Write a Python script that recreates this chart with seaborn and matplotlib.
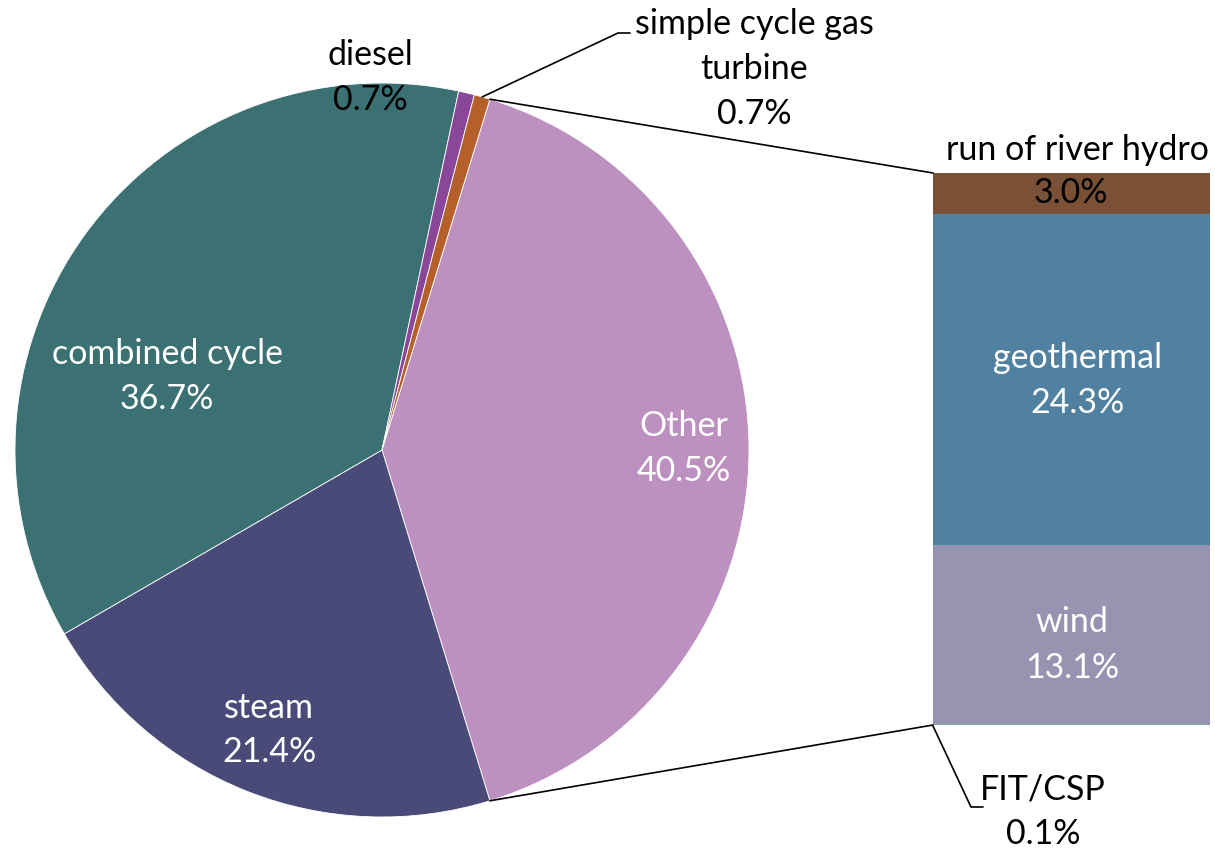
import numpy as np
import matplotlib.pyplot as plt
import seaborn as sns

# Pie data (clockwise from the right-hand "Other" slice)
pie_labels = ["Other", "steam", "combined cycle", "diesel", "simple cycle gas\nturbine"]
pie_values = [40.5, 21.4, 36.7, 0.7, 0.7]
pie_colors = ["#BC91BF", "#4A4A78", "#3B7173", "#8A479A", "#B55F2A"]

# Breakdown of "Other" (bottom to top)
bar_labels = ["FIT/CSP", "wind", "geothermal", "run of river hydro"]
bar_values = [0.1, 13.1, 24.3, 3.0]
bar_colors = ["#7FA3A3", "#9694B0", "#5181A1", "#7A5037"]

W, H = 1215, 849

if __name__ == "__main__":
    sns.set_theme(style="white")
    plt.rcParams["font.family"] = ["Lato", "DejaVu Sans"]

    fig = plt.figure(figsize=(W / 100, H / 100), dpi=100)
    ax = fig.add_axes([0, 0, 1, 1])

    # PIE
    center = (382, H - 450)
    radius = 367
    start = 180 * pie_values[0] / 100  # center "Other" on the right
    wedges, _ = ax.pie(pie_values, colors=pie_colors, startangle=start,
                       counterclock=False, center=center, radius=radius,
                       wedgeprops=dict(edgecolor="white", linewidth=0.6),
                       frame=True)
    ax.set_xlim(0, W)
    ax.set_ylim(0, H)
    ax.set_aspect("equal")
    ax.axis("off")

    fs = 24.5
    ls = 1.5

    def lbl(x, y, text, color="black"):
        ax.text(x, H - y, text, ha="center", va="center",
                color=color, fontsize=fs, linespacing=ls)

    lbl(684, 448, f"{pie_labels[0]}\n{pie_values[0]:.1f}%", "white")
    lbl(269, 730, f"{pie_labels[1]}\n{pie_values[1]:.1f}%", "white")
    lbl(167, 376, f"{pie_labels[2]}\n{pie_values[2]:.1f}%", "white")
    lbl(370, 77, f"{pie_labels[3]}\n{pie_values[3]:.1f}%")
    lbl(754, 69, f"{pie_labels[4]}\n{pie_values[4]:.1f}%")

    # leader for simple cycle gas turbine
    w = wedges[4]
    mid = np.deg2rad((w.theta1 + w.theta2) / 2)
    px, py = center[0] + radius * np.cos(mid), center[1] + radius * np.sin(mid)
    ax.plot([px, 618, 630], [py, H - 33, H - 33], color="black", lw=1.2)

    # STACKED BAR
    bar_x0, bar_x1 = 933, 1210
    bar_bottom = H - 725
    scale = 552 / sum(bar_values)
    bottom = bar_bottom
    for v, c in zip(bar_values, bar_colors):
        ax.bar((bar_x0 + bar_x1) / 2, v * scale, width=bar_x1 - bar_x0,
               bottom=bottom, color=c, linewidth=0)
        bottom += v * scale
    bar_top = bottom

    # bar labels
    lbl(1078, 380, f"{bar_labels[2]}\n{bar_values[2]:.1f}%", "white")
    lbl(1072, 645, f"{bar_labels[1]}\n{bar_values[1]:.1f}%", "white")
    lbl(1077, 150, bar_labels[3])
    lbl(1071, 193, f"{bar_values[3]:.1f}%")
    lbl(1043, 812, f"{bar_labels[0]}\n{bar_values[0]:.1f}%")
    ax.plot([bar_x0, 971, 983], [bar_bottom - 1, H - 807, H - 807],
            color="black", lw=1.2)

    # connector lines pie -> bar
    t_top = np.deg2rad(wedges[0].theta2)
    t_bot = np.deg2rad(wedges[0].theta1)
    for t, yb in [(t_top, bar_top), (t_bot, bar_bottom)]:
        ax.plot([center[0] + radius * np.cos(t), bar_x0],
                [center[1] + radius * np.sin(t), yb], color="black", lw=1.2)

    fig.savefig("out.png", dpi=100)
